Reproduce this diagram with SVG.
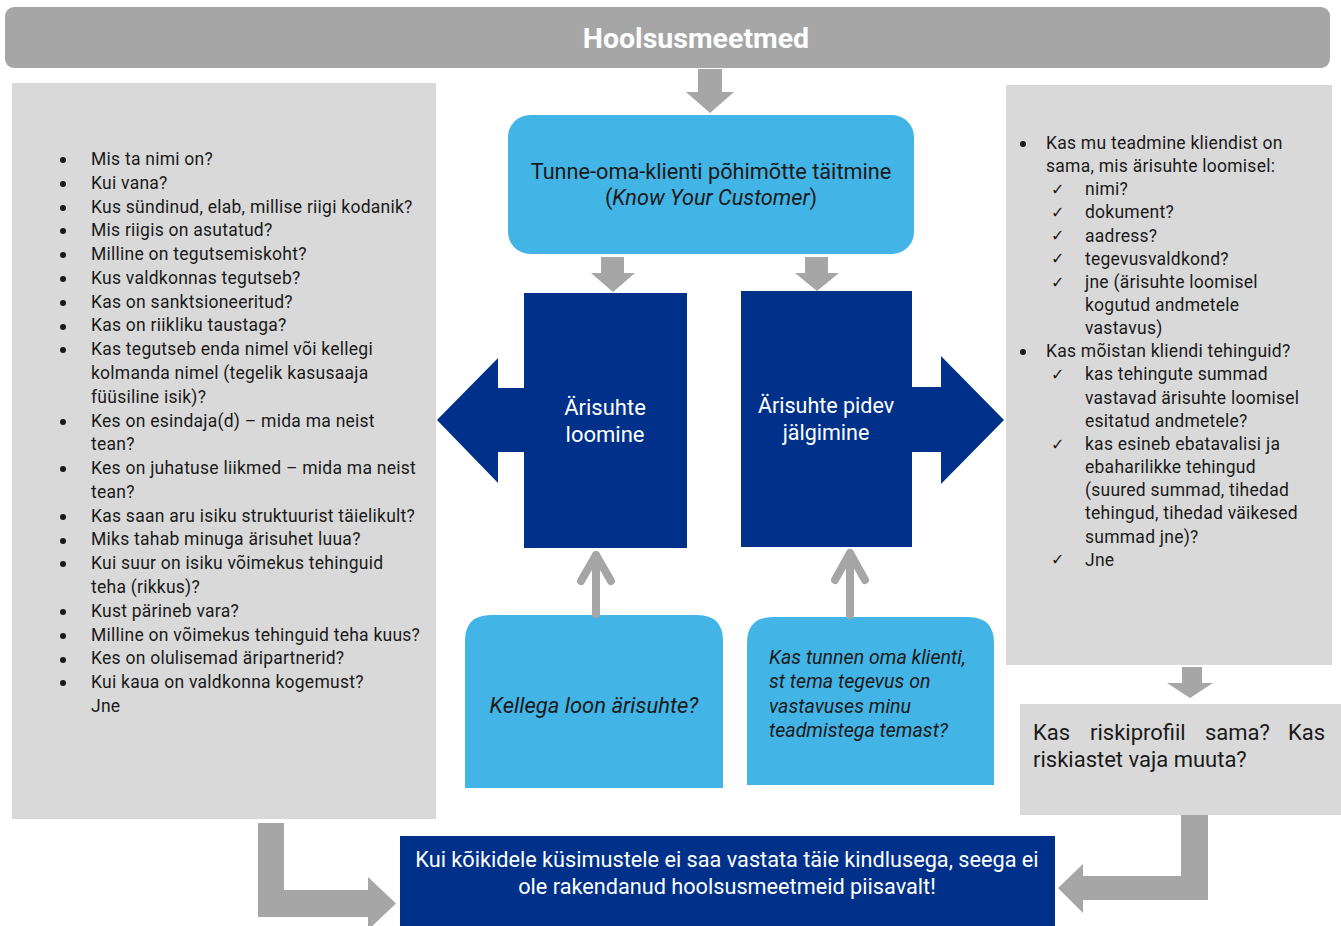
<svg xmlns="http://www.w3.org/2000/svg" width="1341" height="926" viewBox="0 0 1341 926">
<style>
.panel{fill:#d9d9d9}
.gray{fill:#a6a6a6}
.dark{fill:#00318a}
.light{fill:#42b4e6}
.t{font-family:Roboto,"Liberation Sans",sans-serif;fill:#1a1a1a}
.list{font-size:17.5px;letter-spacing:0.25px}
.w{fill:#ffffff}
.chk{font-family:"DejaVu Sans",sans-serif;font-size:16px;fill:#1a1a1a}
.line{stroke:#a6a6a6;stroke-width:8;fill:none;stroke-linecap:round;stroke-linejoin:round}
</style>
<rect width="1341" height="926" fill="#ffffff"/>

<g id="title">
<rect x="5" y="7" width="1325" height="61" rx="9" class="gray"/>
<text x="696" y="48" text-anchor="middle" class="t w" font-size="28.5" font-weight="bold">Hoolsusmeetmed</text>
</g>

<g id="left-panel">
<rect x="12" y="83" width="424" height="736" class="panel"/>
<g fill="#1a1a1a">
<circle cx="63" cy="160" r="3"/><circle cx="63" cy="184" r="3"/><circle cx="63" cy="208" r="3"/><circle cx="63" cy="231" r="3"/><circle cx="63" cy="255" r="3"/><circle cx="63" cy="279" r="3"/><circle cx="63" cy="303" r="3"/><circle cx="63" cy="327" r="3"/><circle cx="63" cy="350" r="3"/><circle cx="63" cy="422" r="3"/><circle cx="63" cy="469" r="3"/><circle cx="63" cy="517" r="3"/><circle cx="63" cy="541" r="3"/><circle cx="63" cy="564" r="3"/><circle cx="63" cy="612" r="3"/><circle cx="63" cy="636" r="3"/><circle cx="63" cy="660" r="3"/><circle cx="63" cy="683" r="3"/>
</g>
<text class="t list" y="165">
<tspan x="91">Mis ta nimi on?</tspan>
<tspan x="91" dy="23.78">Kui vana?</tspan>
<tspan x="91" dy="23.78">Kus sündinud, elab, millise riigi kodanik?</tspan>
<tspan x="91" dy="23.78">Mis riigis on asutatud?</tspan>
<tspan x="91" dy="23.78">Milline on tegutsemiskoht?</tspan>
<tspan x="91" dy="23.78">Kus valdkonnas tegutseb?</tspan>
<tspan x="91" dy="23.78">Kas on sanktsioneeritud?</tspan>
<tspan x="91" dy="23.78">Kas on riikliku taustaga?</tspan>
<tspan x="91" dy="23.78">Kas tegutseb enda nimel või kellegi</tspan>
<tspan x="91" dy="23.78">kolmanda nimel (tegelik kasusaaja</tspan>
<tspan x="91" dy="23.78">füüsiline isik)?</tspan>
<tspan x="91" dy="23.78">Kes on esindaja(d) – mida ma neist</tspan>
<tspan x="91" dy="23.78">tean?</tspan>
<tspan x="91" dy="23.78">Kes on juhatuse liikmed – mida ma neist</tspan>
<tspan x="91" dy="23.78">tean?</tspan>
<tspan x="91" dy="23.78">Kas saan aru isiku struktuurist täielikult?</tspan>
<tspan x="91" dy="23.78">Miks tahab minuga ärisuhet luua?</tspan>
<tspan x="91" dy="23.78">Kui suur on isiku võimekus tehinguid</tspan>
<tspan x="91" dy="23.78">teha (rikkus)?</tspan>
<tspan x="91" dy="23.78">Kust pärineb vara?</tspan>
<tspan x="91" dy="23.78">Milline on võimekus tehinguid teha kuus?</tspan>
<tspan x="91" dy="23.78">Kes on olulisemad äripartnerid?</tspan>
<tspan x="91" dy="23.78">Kui kaua on valdkonna kogemust?</tspan>
<tspan x="91" dy="23.78">Jne</tspan>
</text>
</g>

<g id="kyc">
<rect x="508" y="115" width="406" height="139" rx="22" class="light"/>
<text x="711" y="179" text-anchor="middle" class="t" font-size="21.7">Tunne-oma-klienti põhimõtte täitmine</text>
<text x="711" y="205" text-anchor="middle" class="t" font-size="21.7">(<tspan font-style="italic">Know Your Customer</tspan>)</text>
</g>

<g id="arisuhte-loomine">
<path class="dark" d="M524,293 H687 V548 H524 V452 H498 V483 L437,420 L498,358 V388 H524 Z"/>
<text x="605" y="415" text-anchor="middle" class="t w" font-size="22">Ärisuhte</text>
<text x="605" y="442" text-anchor="middle" class="t w" font-size="22">loomine</text>
</g>

<g id="arisuhte-jalgimine">
<path class="dark" d="M741,291 H912 V387 H941 V356 L1004,420 L941,484 V452 H912 V547 H741 Z"/>
<text x="826" y="413" text-anchor="middle" class="t w" font-size="21.5">Ärisuhte pidev</text>
<text x="826" y="440" text-anchor="middle" class="t w" font-size="21.5">jälgimine</text>
</g>

<g id="kellega">
<path class="light" d="M465,788 V641 Q465,615 491,615 H697 Q723,615 723,641 V788 Z"/>
<text x="594" y="713" text-anchor="middle" class="t" font-size="22" font-style="italic">Kellega loon ärisuhte?</text>
</g>

<g id="kas-tunnen">
<path class="light" d="M747,785 V643 Q747,617 773,617 H968 Q994,617 994,643 V785 Z"/>
<text class="t" font-size="19.6" font-style="italic" y="664">
<tspan x="769">Kas tunnen oma klienti,</tspan>
<tspan x="769" dy="24.3">st tema tegevus on</tspan>
<tspan x="769" dy="24.3">vastavuses minu</tspan>
<tspan x="769" dy="24.3">teadmistega temast?</tspan>
</text>
</g>

<g id="right-panel">
<rect x="1006" y="85" width="326" height="580" class="panel"/>
<g fill="#1a1a1a"><circle cx="1023" cy="144" r="3"/><circle cx="1023" cy="352" r="3"/></g>
<g class="chk">
<text x="1051" y="195">✓</text><text x="1051" y="218">✓</text><text x="1051" y="241">✓</text><text x="1051" y="264">✓</text><text x="1051" y="288">✓</text><text x="1051" y="380">✓</text><text x="1051" y="450">✓</text><text x="1051" y="565">✓</text>
</g>
<text class="t list" y="149">
<tspan x="1046">Kas mu teadmine kliendist on</tspan>
<tspan x="1046" dy="23.15">sama, mis ärisuhte loomisel:</tspan>
<tspan x="1085" dy="23.15">nimi?</tspan>
<tspan x="1085" dy="23.15">dokument?</tspan>
<tspan x="1085" dy="23.15">aadress?</tspan>
<tspan x="1085" dy="23.15">tegevusvaldkond?</tspan>
<tspan x="1085" dy="23.15">jne (ärisuhte loomisel</tspan>
<tspan x="1085" dy="23.15">kogutud andmetele</tspan>
<tspan x="1085" dy="23.15">vastavus)</tspan>
<tspan x="1046" dy="23.15">Kas mõistan kliendi tehinguid?</tspan>
<tspan x="1085" dy="23.15">kas tehingute summad</tspan>
<tspan x="1085" dy="23.15">vastavad ärisuhte loomisel</tspan>
<tspan x="1085" dy="23.15">esitatud andmetele?</tspan>
<tspan x="1085" dy="23.15">kas esineb ebatavalisi ja</tspan>
<tspan x="1085" dy="23.15">ebaharilikke tehingud</tspan>
<tspan x="1085" dy="23.15">(suured summad, tihedad</tspan>
<tspan x="1085" dy="23.15">tehingud, tihedad väikesed</tspan>
<tspan x="1085" dy="23.15">summad jne)?</tspan>
<tspan x="1085" dy="23.15">Jne</tspan>
</text>
</g>

<g id="risk">
<rect x="1020" y="704" width="321" height="111" class="panel"/>
<text class="t" font-size="22" y="740"><tspan x="1033">Kas</tspan><tspan x="1090">riskiprofiil</tspan><tspan x="1205">sama?</tspan><tspan x="1325" text-anchor="end">Kas</tspan></text>
<text class="t" font-size="22" x="1033" y="767">riskiastet vaja muuta?</text>
</g>

<g id="conclusion">
<rect x="400" y="836" width="655" height="90" class="dark"/>
<text x="727" y="867" text-anchor="middle" class="t w" font-size="21.7">Kui kõikidele küsimustele ei saa vastata täie kindlusega, seega ei</text>
<text x="727" y="894" text-anchor="middle" class="t w" font-size="21.7">ole rakendanud hoolsusmeetmeid piisavalt!</text>
</g>

<g id="connectors">
<path class="gray" d="M698,69 H722 V92 H734 L710,113 L686,92 H698 Z"/>
<path class="gray" d="M601,257 H624 V273 H635 L613,292 L591,273 H601 Z"/>
<path class="gray" d="M805,257 H828 V273 H839 L817,291 L795,273 H805 Z"/>
<path class="line" d="M596,614 V555 M581,581 L596,555 L611,581"/>
<path class="line" d="M850,615 V553 M835,580 L850,553 L865,580"/>
<path class="gray" d="M1182,667 H1202 V683 H1213 L1190,698 L1167,683 H1182 Z"/>
<path class="gray" d="M258,823 H284 V890 H368 V877 L396,903.5 L368,930 V917 H258 Z"/>
<path class="gray" d="M1181,815 H1208 V900 H1083 V913 L1058,888 L1083,864 V876 H1181 Z"/>
</g>
</svg>
